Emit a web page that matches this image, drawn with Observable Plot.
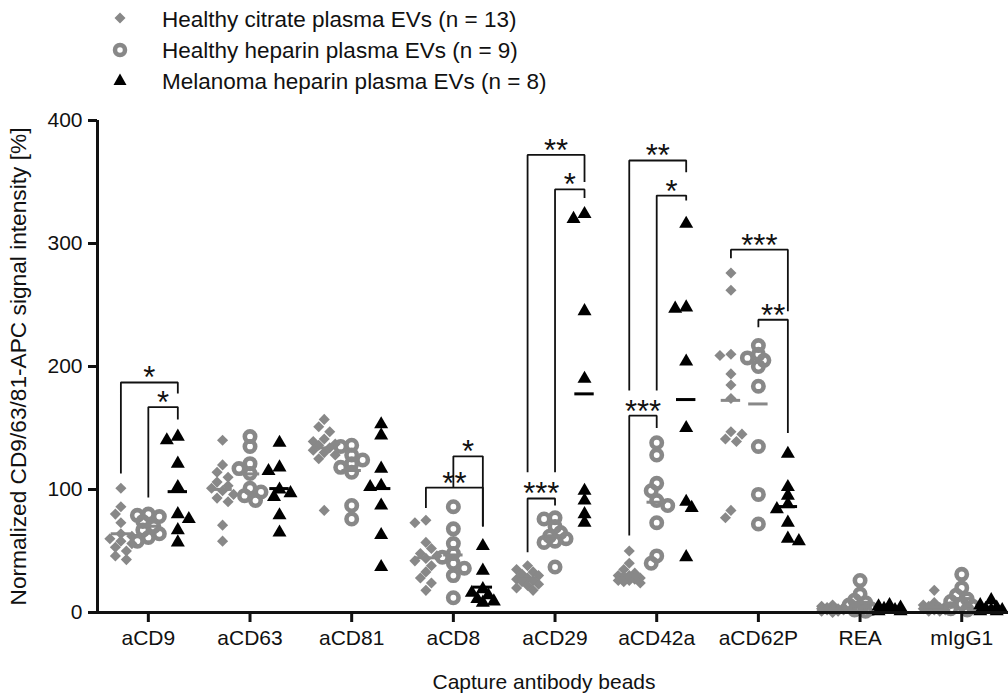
<!DOCTYPE html>
<html>
<head>
<meta charset="utf-8">
<script src="https://cdn.jsdelivr.net/npm/d3@7"></script>
<script src="https://cdn.jsdelivr.net/npm/@observablehq/plot@0.6"></script>
<style>
  html, body { margin: 0; padding: 0; background: white; }
  #legend { position: relative; width: 1008px; height: 100px; }
  #chart { width: 1008px; }
</style>
</head>
<body>
<div id="legend"></div>
<div id="chart"></div>
<script>
// ---------- data ----------
const categories = ["aCD9", "aCD63", "aCD81", "aCD8", "aCD29", "aCD42a", "aCD62P", "REA", "mIgG1"];
const groupNames = [
  "Healthy citrate plasma EVs (n = 13)",
  "Healthy heparin plasma EVs (n = 9)",
  "Melanoma heparin plasma EVs (n = 8)"
];
// values per category (same order as categories)
const citrate = [
  [101, 86, 80, 73, 64, 62, 60, 58, 56, 53, 50, 46, 43],
  [140, 120, 114, 110, 106, 103, 101, 99, 96, 93, 90, 71, 58],
  [157, 151, 147, 141, 139, 137, 136, 134, 132, 130, 128, 125, 83],
  [75, 73, 57, 52, 48, 46, 44, 42, 38, 33, 28, 24, 18],
  [38, 35, 33, 31, 30, 28, 27, 26, 25, 23, 22, 20, 18],
  [50, 40, 35, 32, 30, 30, 28, 28, 27, 26, 26, 25, 24],
  [276, 262, 210, 209, 194, 185, 174, 147, 145, 141, 139, 83, 77],
  [6, 5, 4, 4, 3, 3, 3, 2, 2, 2, 1, 1, 0],
  [18, 8, 6, 5, 5, 4, 4, 3, 3, 2, 2, 1, 1]
];
const heparin = [
  [80, 79, 78, 74, 70, 67, 64, 61, 58],
  [143, 135, 121, 117, 113, 101, 98, 95, 91],
  [136, 135, 128, 124, 121, 118, 114, 87, 76],
  [86, 68, 56, 48, 45, 40, 36, 30, 12],
  [77, 76, 70, 65, 62, 60, 58, 57, 37],
  [138, 128, 105, 99, 91, 87, 73, 46, 40],
  [217, 210, 207, 205, 200, 184, 135, 96, 72],
  [26, 15, 10, 8, 6, 4, 3, 2, 1],
  [31, 20, 14, 11, 9, 7, 5, 3, 2]
];
const melanoma = [
  [143, 140, 121, 102, 80, 76, 67, 57],
  [138, 118, 115, 100, 97, 94, 79, 65],
  [153, 144, 117, 103, 102, 87, 63, 37],
  [54, 34, 19, 16, 14, 11, 9, 8],
  [324, 320, 245, 190, 99, 91, 80, 73],
  [316, 248, 247, 204, 150, 90, 85, 45],
  [129, 102, 95, 88, 84, 73, 60, 58],
  [6, 5, 4, 3, 2, 2, 1, 1],
  [10, 6, 4, 3, 2, 2, 1, 1]
];
const yTicks = [0, 100, 200, 300, 400];
const yTitle = "Normalized CD9/63/81-APC signal intensity [%]";
const xTitle = "Capture antibody beads";
// significance brackets: [category, fromGroup, toGroup, top, leftBottom, rightBottom, label]
const brackets = [
  [0, 0, 2, 187, 113, 178, "*"],
  [0, 1, 2, 167, 93.5, 157, "*"],
  [3, 0, 2, 101.6, 85, 70, "**"],
  [3, 1, 2, 127, 101.6, 70, "*"],
  [4, 0, 2, 372, 114, 350, "**"],
  [4, 1, 2, 344, 114, 337, "*"],
  [4, 0, 1, 92.7, 49, 87, "***"],
  [5, 0, 2, 367.5, 180.5, 358, "**"],
  [5, 1, 2, 339, 180.5, 335, "*"],
  [5, 0, 1, 160, 62.6, 150, "***"],
  [6, 0, 2, 295, 288, 245, "***"],
  [6, 1, 2, 238, 232, 146, "**"]
];

// ---------- layout ----------
const W = 1008, H = 598, mT = 20, mB = 86, mL = 97, mR = 0;
const xDomain = [-0.5, 8.46];
const yDomain = [0, 400];
const groupOffset = [-0.27, 0, 0.29];
const gray = "#888888";
const ink = "#111111";
const font = "'Liberation Sans', Arial, Helvetica, sans-serif";
const pxPerX = (W - mL - mR) / (xDomain[1] - xDomain[0]);
const pxPerY = (H - mT - mB) / (yDomain[1] - yDomain[0]);

// simple deterministic beeswarm spread (pixel offsets)
function swarm(values, step = 5.5, minD = 7.5) {
  const order = values.map((v, i) => i).sort((a, b) => values[b] - values[a]);
  const placed = [];
  const off = new Array(values.length).fill(0);
  let flip = 1;
  for (const i of order) {
    const yi = values[i] * pxPerY;
    let best = 0, bestScore = -Infinity;
    const cands = [0, -flip, flip, -2 * flip, 2 * flip];
    for (const k of cands) {
      const xi = k * step;
      let md = Infinity;
      for (const p of placed) md = Math.min(md, Math.hypot(p.x - xi, p.y - yi));
      if (md >= minD) { best = xi; bestScore = Infinity; break; }
      if (md > bestScore) { bestScore = md; best = xi; }
    }
    if (best !== 0) flip = -flip;
    placed.push({x: best, y: yi});
    off[i] = best;
  }
  return off;
}

const groups = [citrate, heparin, melanoma];
const points = [];
const means = [];
groups.forEach((grp, g) => grp.forEach((vals, c) => {
  const off = swarm(vals);
  vals.forEach((v, i) => points.push({g, c, v, x: c + groupOffset[g] + off[i] / pxPerX}));
  means.push({g, c, m: d3.mean(vals), x: c + groupOffset[g]});
}));

const bracketPath = brackets.flatMap(([c, g1, g2, top, b1, b2], k) => {
  const x1 = c + groupOffset[g1], x2 = c + groupOffset[g2];
  return [{k, x: x1, y: b1}, {k, x: x1, y: top}, {k, x: x2, y: top}, {k, x: x2, y: b2}];
});
const bracketLabels = brackets.map(([c, g1, g2, top, b1, b2, label]) => ({
  x: c + (groupOffset[g1] + groupOffset[g2]) / 2, y: top, label
}));

const halfBar = 9.7 / pxPerX;

const chart = Plot.plot({
  width: W, height: H,
  marginTop: mT, marginBottom: mB, marginLeft: mL, marginRight: mR,
  x: {domain: xDomain},
  y: {domain: yDomain},
  style: {fontFamily: font, fontSize: "21px", background: "white", color: ink},
  marks: [
    Plot.line(bracketPath, {x: "x", y: "y", z: "k", stroke: ink, strokeWidth: 1.8, strokeLinejoin: "miter", strokeLinecap: "butt"}),
    Plot.text(bracketLabels, {x: "x", y: "y", text: "label", fontSize: 31, lineAnchor: "bottom", dy: 6, fill: ink}),
    Plot.dot(points.filter(d => d.g === 0), {x: "x", y: "v", symbol: "diamond2", fill: gray, stroke: "none", r: 5}),
    Plot.dot(points.filter(d => d.g === 1), {x: "x", y: "v", r: 5.2, stroke: gray, strokeWidth: 4.6, fill: "none"}),
    Plot.dot(points.filter(d => d.g === 2), {x: "x", y: "v", symbol: "triangle", fill: "black", stroke: "none", r: 5.2}),
    Plot.ruleY(means.filter(d => d.g < 2), {x1: d => d.x - halfBar, x2: d => d.x + halfBar, y: "m", stroke: gray, strokeWidth: 3}),
    Plot.ruleY(means.filter(d => d.g === 2), {x1: d => d.x - halfBar, x2: d => d.x + halfBar, y: "m", stroke: "black", strokeWidth: 3}),
    Plot.ruleX([xDomain[0]], {y1: yDomain[0], y2: yDomain[1], stroke: ink, strokeWidth: 3}),
    Plot.ruleY([0], {x1: xDomain[0], x2: xDomain[1], stroke: ink, strokeWidth: 3}),
    Plot.axisY({ticks: yTicks, tickSize: 9, tickPadding: 6, strokeWidth: 3, fontSize: 21, label: null}),
    Plot.axisX({ticks: d3.range(categories.length), tickFormat: i => categories[i], tickSize: 10, tickPadding: 8, strokeWidth: 3, fontSize: 21, label: null}),
    Plot.text([xTitle], {text: d => d, frameAnchor: "bottom", textAnchor: "middle", dy: 76, dx: -9, lineAnchor: "bottom", fontSize: 21}),
    Plot.text([yTitle], {text: d => d, frameAnchor: "left", textAnchor: "middle", lineAnchor: "middle", rotate: -90, dx: -79, fontSize: 22.7})
  ]
});
document.getElementById("chart").appendChild(chart);

// ---------- legend ----------
const ns = "http://www.w3.org/2000/svg";
const lg = document.createElementNS(ns, "svg");
lg.setAttribute("width", 1008);
lg.setAttribute("height", 100);
lg.style.display = "block";
const symY = [18, 50, 80];
const textY = [27, 58, 89];
const sx = 120;
groupNames.forEach((name, g) => {
  let el;
  if (g === 0) {
    el = document.createElementNS(ns, "polygon");
    const cy = symY[g], r = 5.5;
    el.setAttribute("points", `${sx},${cy - r} ${sx + r},${cy} ${sx},${cy + r} ${sx - r},${cy}`);
    el.setAttribute("fill", gray);
  } else if (g === 1) {
    el = document.createElementNS(ns, "circle");
    el.setAttribute("cx", sx); el.setAttribute("cy", symY[g]); el.setAttribute("r", 5);
    el.setAttribute("fill", "none"); el.setAttribute("stroke", gray); el.setAttribute("stroke-width", 4.5);
  } else {
    el = document.createElementNS(ns, "polygon");
    const cy = symY[g];
    el.setAttribute("points", `${sx},${cy - 6.5} ${sx + 6.5},${cy + 5} ${sx - 6.5},${cy + 5}`);
    el.setAttribute("fill", "black");
  }
  lg.appendChild(el);
  const t = document.createElementNS(ns, "text");
  t.setAttribute("x", 162);
  t.setAttribute("y", textY[g]);
  t.setAttribute("font-family", font);
  t.setAttribute("font-size", 22.5);
  t.setAttribute("fill", ink);
  t.textContent = name;
  lg.appendChild(t);
});
document.getElementById("legend").appendChild(lg);
</script>
</body>
</html>
